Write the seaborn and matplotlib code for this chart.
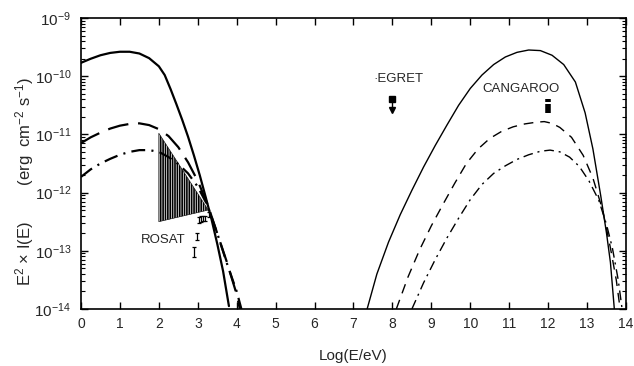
import numpy as np
import pandas as pd
import matplotlib
matplotlib.use("Agg")
import matplotlib.pyplot as plt
import seaborn as sns

# ---------------- data (log10 of E^2 I(E)) ----------------
sync_solid_x = [0.0, 0.25, 0.5, 0.75, 1.0, 1.25, 1.5, 1.75, 2.0, 2.15, 2.3, 2.45, 2.6, 2.75,
                2.9, 3.05, 3.2, 3.35, 3.5, 3.65, 3.8]
sync_solid_log = [-9.77, -9.70, -9.64, -9.60, -9.58, -9.58, -9.61, -9.69, -9.83, -9.98, -10.22, -10.48,
                  -10.75, -11.04, -11.36, -11.70, -12.07, -12.45, -12.88, -13.35, -13.95]

sync_dash_x = [0.0, 0.25, 0.5, 0.75, 1.0, 1.25, 1.5, 1.75, 2.0, 2.25, 2.5, 2.75, 3.0, 3.25,
               3.5, 3.75, 4.0, 4.08]
sync_dash_log = [-11.15, -11.05, -10.97, -10.90, -10.85, -10.82, -10.81, -10.84, -10.91, -11.03, -11.22,
                 -11.48, -11.80, -12.20, -12.70, -13.20, -13.75, -14.0]

sync_dd_x = [0.0, 0.25, 0.5, 0.75, 1.0, 1.25, 1.5, 1.75, 2.0, 2.25, 2.5, 2.75, 3.0, 3.25,
             3.5, 3.75, 4.0, 4.12]
sync_dd_log = [-11.73, -11.60, -11.50, -11.42, -11.35, -11.30, -11.27, -11.27, -11.30, -11.39, -11.51,
               -11.67, -11.90, -12.22, -12.70, -13.22, -13.70, -14.0]

ic_solid_x = [7.35, 7.6, 7.9, 8.2, 8.5, 8.8, 9.1, 9.4, 9.7, 10.0, 10.3, 10.6, 10.9, 11.2, 11.5,
              11.8, 12.1, 12.4, 12.7, 12.95, 13.15, 13.35, 13.5, 13.6, 13.7]
ic_solid_log = [-14.0, -13.4, -12.85, -12.38, -11.96, -11.56, -11.19, -10.84, -10.50, -10.21, -9.98,
                -9.80, -9.67, -9.59, -9.55, -9.56, -9.64, -9.80, -10.10, -10.63, -11.25, -12.05,
                -12.70, -13.20, -14.0]

ic_dash_x = [8.1, 8.4, 8.7, 9.0, 9.3, 9.6, 9.9, 10.2, 10.5, 10.8, 11.1, 11.4, 11.7, 11.9, 12.1,
             12.3, 12.6, 12.9, 13.15, 13.4, 13.6, 13.75, 13.85]
ic_dash_log = [-14.0, -13.45, -12.98, -12.57, -12.20, -11.84, -11.50, -11.25, -11.07, -10.95, -10.87,
               -10.82, -10.79, -10.78, -10.81, -10.88, -11.05, -11.36, -11.75, -12.30, -12.95, -13.50,
               -14.0]

ic_dd_x = [8.5, 8.8, 9.1, 9.4, 9.7, 10.0, 10.3, 10.6, 10.9, 11.2, 11.5, 11.8, 12.05, 12.3, 12.55,
           12.8, 13.05, 13.3, 13.5, 13.65, 13.8, 13.9]
ic_dd_log = [-14.0, -13.55, -13.15, -12.78, -12.44, -12.12, -11.86, -11.67, -11.54, -11.43, -11.35,
             -11.29, -11.27, -11.30, -11.39, -11.55, -11.80, -12.13, -12.55, -12.95, -13.50, -14.0]

# ROSAT bow-tie (x edges, upper and lower log flux)
rosat_band_x = [2.0, 3.27]
rosat_band_upper_log = [-10.98, -12.30]
rosat_band_lower_log = [-12.50, -12.30]
# ROSAT individual points
rosat_pts_x = [2.89, 2.97, 3.03, 3.08, 3.13, 3.18, 3.30]
rosat_pts_log = [-13.02, -12.75, -12.47, -12.45, -12.44, -12.44, -12.38]
rosat_pts_err = [0.09, 0.06, 0.05, 0.05, 0.04, 0.04, 0.04]

# EGRET upper limit
egret_x = [8.0]
egret_log = [-10.40]
egret_limit_log = [-10.58]

# CANGAROO points
cang_x = [12.0, 12.0]
cang_log = [-10.42, -10.56]
cang_err = [0.03, 0.075]

xticks = list(range(0, 15))

# ---------------- style ----------------
sns.set_theme(style="ticks")
plt.rcParams["font.family"] = ["Liberation Sans", "DejaVu Sans"]
plt.rcParams["mathtext.fontset"] = "custom"
plt.rcParams["mathtext.rm"] = "Liberation Sans"
plt.rcParams["mathtext.it"] = "Liberation Sans:italic"
plt.rcParams["mathtext.default"] = "regular"
plt.rcParams["lines.scale_dashes"] = False
plt.rcParams["hatch.linewidth"] = 1.2

fig = plt.figure(figsize=(6.34, 3.66), dpi=100)
ax = fig.add_axes([81 / 634, 1 - 309 / 366, (626 - 81) / 634, (309 - 18) / 366])

def curve(xs, logs, lw, ls):
    df = pd.DataFrame({"x": xs, "y": np.power(10.0, logs)})
    sns.lineplot(data=df, x="x", y="y", ax=ax, color="black", lw=lw, linestyle=ls,
                 sort=False, estimator=None)

curve(sync_solid_x, sync_solid_log, 1.6, "-")
curve(sync_dash_x, sync_dash_log, 1.6, (0, (15, 7)))
curve(sync_dd_x, sync_dd_log, 1.6, (0, (10, 4.5, 1.5, 4.5)))
curve(ic_solid_x, ic_solid_log, 1.0, "-")
curve(ic_dash_x, ic_dash_log, 1.0, (0, (7, 5)))
curve(ic_dd_x, ic_dd_log, 1.0, (0, (7, 3.5, 1.5, 3.5)))

# ROSAT hatched bow-tie
ax.fill_between(rosat_band_x, np.power(10.0, rosat_band_lower_log), np.power(10.0, rosat_band_upper_log),
                facecolor="none", edgecolor="black", hatch="|||||||", linewidth=0.4)
rp = np.array(rosat_pts_log)
re = np.array(rosat_pts_err)
ax.errorbar(rosat_pts_x, np.power(10.0, rp),
            yerr=[np.power(10.0, rp) - np.power(10.0, rp - re), np.power(10.0, rp + re) - np.power(10.0, rp)],
            fmt="none", ecolor="black", elinewidth=0.9, capsize=1.5, capthick=0.9)

# EGRET upper limit
ax.plot(egret_x, np.power(10.0, egret_log), marker="s", ms=4, color="black", ls="none")
ax.vlines(egret_x, np.power(10.0, egret_limit_log), np.power(10.0, egret_log), color="black", lw=1.0)
ax.plot(egret_x, np.power(10.0, egret_limit_log), marker="v", ms=4, color="black", ls="none")

# CANGAROO
cl = np.array(cang_log)
ce = np.array(cang_err)
cang_y = np.power(10.0, cl)
ax.errorbar(cang_x, cang_y,
            yerr=[cang_y - np.power(10.0, cl - ce), np.power(10.0, cl + ce) - cang_y],
            fmt="none", ecolor="black", elinewidth=4.0, capsize=0)

# labels
ax.text(2.1, 10 ** -12.81, "ROSAT", ha="center", va="center", fontsize=9.5)
ax.text(8.15, 10 ** -10.04, "\u00b7EGRET", ha="center", va="center", fontsize=9.5)
ax.text(11.31, 10 ** -10.22, "CANGAROO", ha="center", va="center", fontsize=9.5)

ax.set_yscale("log")
ax.set_xlim(0, 14)
ax.set_ylim(1e-14, 1e-9)
ax.set_xticks(xticks)
ax.set_xticklabels([str(t) for t in xticks])
ax.tick_params(axis="both", which="both", direction="in", top=True, right=True, color="black")
ax.tick_params(axis="both", which="major", length=5, width=1.0)
ax.tick_params(axis="y", which="minor", length=3, width=0.8)
ax.tick_params(axis="x", which="major", labelsize=10, pad=6)
ax.tick_params(axis="y", which="major", labelsize=11, pad=7)
ax.xaxis.set_minor_locator(matplotlib.ticker.NullLocator())
ax.yaxis.set_major_locator(matplotlib.ticker.LogLocator(base=10, numticks=10))
ax.yaxis.set_minor_locator(matplotlib.ticker.LogLocator(base=10, subs=np.arange(2, 10), numticks=20))
for s in ax.spines.values():
    s.set_linewidth(1.2)
    s.set_color("black")

ax.set_xlabel("Log(E/eV)", fontsize=11)
ax.xaxis.set_label_coords(0.5, -0.138)
ax.set_ylabel("")
ax.yaxis.label.set_visible(False)
fig.text(25 / 634, 1 - 181 / 366,
         r"E$^2$ $\times$ I(E)        (erg  cm$^{-2}$ s$^{-1}$)", rotation=90,
         ha="center", va="center", fontsize=12)

fig.savefig("out.png", dpi=100)
